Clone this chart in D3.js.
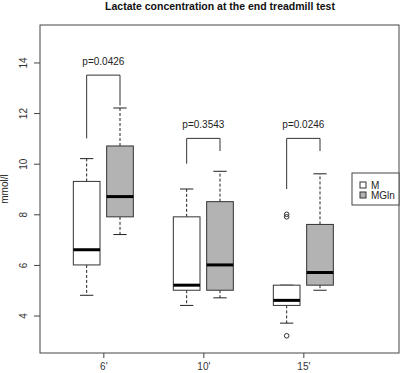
<!DOCTYPE html>
<html>
<head>
<meta charset="utf-8">
<script src="https://cdn.jsdelivr.net/npm/d3@7"></script>
<style>
  body { margin: 0; background: #fff; }
  text { font-family: "Liberation Sans", Arial, sans-serif; fill: #222; }
</style>
</head>
<body>
<div id="chart"></div>
<script>
// group labels and the two series (M, MGln) per group
const groups = ["6'", "10'", "15'"]
const series = ["M", "MGln"]
const seriesFill = ["#ffffff", "#b3b3b3"]

// five-number summaries: [lowWhisker, q1, median, q3, highWhisker]
const statsM = [
  [4.8, 6.0, 6.6, 9.3, 10.2],
  [4.4, 5.0, 5.2, 7.9, 9.0],
  [3.7, 4.4, 4.6, 5.2, 5.2]
]
const statsMGln = [
  [7.2, 7.9, 8.7, 10.7, 12.2],
  [4.7, 5.0, 6.0, 8.5, 9.7],
  [5.0, 5.2, 5.7, 7.6, 9.6]
]
const outliersM = [[], [], [3.2, 7.9, 8.0]]
const outliersMGln = [[], [], []]

// significance brackets: [top, leftLegEnd, rightLegEnd] and label
const bracketLevels = [
  [13.5, 11.0, 12.3],
  [11.0, 10.0, 10.5],
  [11.0, 9.0, 10.5]
]
const pLabels = ["p=0.0426", "p=0.3543", "p=0.0246"]

const yTicks = [4, 6, 8, 10, 12, 14]

const width = 400, height = 373
const margin = {top: 25, right: 1, bottom: 20, left: 40}

const svg = d3.select("#chart")
  .append("svg")
  .attr("width", width)
  .attr("height", height)

// x: box positions 1,2 / 4,5 / 7,8, group ticks at 1.5, 4.5, 7.5
const x = d3.scaleLinear()
  .domain([-0.4, 10.4])
  .range([margin.left, width - margin.right + 1])

const y = d3.scaleLinear()
  .domain([2.52, 15.48])
  .range([height - margin.bottom, margin.top])

const unit = x(1) - x(0)
const boxW = 0.8 * unit

// title
svg.append("text")
  .attr("x", (x.range()[0] + x.range()[1]) / 2)
  .attr("y", 10)
  .attr("text-anchor", "middle")
  .style("font-weight", "bold")
  .style("font-size", "10.5px")
  .style("fill", "#111")
  .text("Lactate concentration at the end treadmill test")

// axes
const yAxis = d3.axisLeft(y).tickValues(yTicks).tickSize(6).tickFormat(d3.format("d"))
const gy = svg.append("g")
  .attr("transform", `translate(${margin.left},0)`)
  .call(yAxis)
gy.select(".domain").remove()
gy.selectAll(".tick line").attr("stroke", "#444")
gy.selectAll(".tick text")
  .attr("transform", "rotate(-90)")
  .attr("x", 0)
  .attr("y", -13)
  .attr("dy", 0)
  .attr("text-anchor", "middle")
  .style("font-size", "10px")
  .style("font-family", "Liberation Sans, Arial, sans-serif")
  .style("fill", "#333")

const groupPos = groups.map((g, i) => 1.5 + 3 * i)
const xAxis = d3.axisBottom(x).tickValues(groupPos).tickSize(5).tickFormat((d, i) => groups[i])
const gx = svg.append("g")
  .attr("transform", `translate(0,${height - margin.bottom})`)
  .call(xAxis)
gx.select(".domain").remove()
gx.selectAll(".tick line").attr("stroke", "#444")
gx.selectAll(".tick text")
  .attr("y", 10)
  .style("font-size", "10px")
  .style("font-family", "Liberation Sans, Arial, sans-serif")
  .style("fill", "#333")

// y label
svg.append("text")
  .attr("transform", `translate(8,${(y.range()[0] + y.range()[1]) / 2}) rotate(-90)`)
  .attr("text-anchor", "middle")
  .style("font-size", "10px")
  .text("mmol/l")

// boxes
const boxData = []
groups.forEach((g, i) => {
  boxData.push({pos: 1 + 3 * i, s: statsM[i], out: outliersM[i], fill: seriesFill[0]})
  boxData.push({pos: 2 + 3 * i, s: statsMGln[i], out: outliersMGln[i], fill: seriesFill[1]})
})

const boxes = svg.selectAll("g.box")
  .data(boxData)
  .enter()
  .append("g")
  .attr("class", "box")

// whiskers
boxes.append("line")
  .attr("x1", d => x(d.pos)).attr("x2", d => x(d.pos))
  .attr("y1", d => y(d.s[3])).attr("y2", d => y(d.s[4]))
  .attr("stroke", "#222").attr("stroke-dasharray", "3,2")
boxes.append("line")
  .attr("x1", d => x(d.pos)).attr("x2", d => x(d.pos))
  .attr("y1", d => y(d.s[1])).attr("y2", d => y(d.s[0]))
  .attr("stroke", "#222").attr("stroke-dasharray", "3,2")
// caps
boxes.append("line")
  .attr("x1", d => x(d.pos) - boxW / 4).attr("x2", d => x(d.pos) + boxW / 4)
  .attr("y1", d => y(d.s[4])).attr("y2", d => y(d.s[4]))
  .attr("stroke", "#222")
boxes.append("line")
  .attr("x1", d => x(d.pos) - boxW / 4).attr("x2", d => x(d.pos) + boxW / 4)
  .attr("y1", d => y(d.s[0])).attr("y2", d => y(d.s[0]))
  .attr("stroke", "#222")
// box
boxes.append("rect")
  .attr("x", d => x(d.pos) - boxW / 2)
  .attr("width", boxW)
  .attr("y", d => y(d.s[3]))
  .attr("height", d => y(d.s[1]) - y(d.s[3]))
  .attr("fill", d => d.fill)
  .attr("stroke", "#333")
// median
boxes.append("line")
  .attr("x1", d => x(d.pos) - boxW / 2).attr("x2", d => x(d.pos) + boxW / 2)
  .attr("y1", d => y(d.s[2])).attr("y2", d => y(d.s[2]))
  .attr("stroke", "#000").attr("stroke-width", 3)
// outliers
boxes.selectAll("circle")
  .data(d => d.out.map(v => ({pos: d.pos, v: v})))
  .enter()
  .append("circle")
  .attr("cx", d => x(d.pos))
  .attr("cy", d => y(d.v))
  .attr("r", 2.3)
  .attr("fill", "none")
  .attr("stroke", "#333")

// brackets and p-values
groups.forEach((g, i) => {
  const [top, l, r] = bracketLevels[i]
  const xl = x(1 + 3 * i), xr = x(2 + 3 * i)
  svg.append("path")
    .attr("d", `M${xl},${y(l)}V${y(top)}H${xr}V${y(r)}`)
    .attr("fill", "none")
    .attr("stroke", "#333")
  svg.append("text")
    .attr("x", (xl + xr) / 2)
    .attr("y", y(top) - 10)
    .attr("text-anchor", "middle")
    .style("font-size", "10px")
    .text(pLabels[i])
})

// plot frame
svg.append("rect")
  .attr("x", x.range()[0])
  .attr("y", y.range()[1])
  .attr("width", x.range()[1] - x.range()[0] - 1)
  .attr("height", y.range()[0] - y.range()[1])
  .attr("fill", "none")
  .attr("stroke", "#444")

// legend
const legend = svg.append("g").attr("transform", "translate(352,173)")
legend.append("rect")
  .attr("width", 47).attr("height", 32)
  .attr("fill", "#fff").attr("stroke", "#444")
series.forEach((s, i) => {
  legend.append("rect")
    .attr("x", 8).attr("y", 9 + 10 * i)
    .attr("width", 6).attr("height", 6)
    .attr("fill", seriesFill[i]).attr("stroke", "#333")
  legend.append("text")
    .attr("x", 19).attr("y", 16 + 10 * i)
    .style("font-size", "10px")
    .text(s)
})
</script>
</body>
</html>
